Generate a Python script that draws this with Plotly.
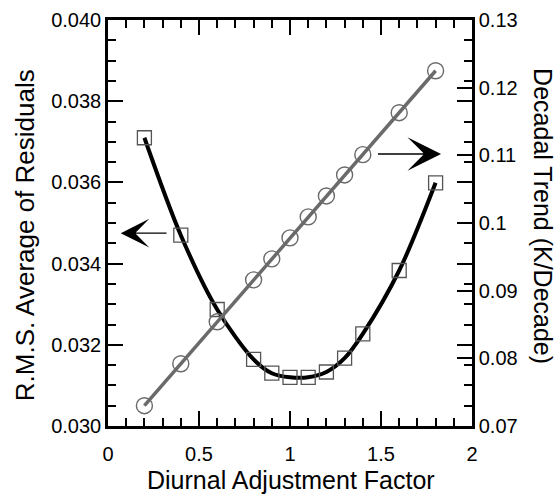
import plotly.graph_objects as go

# Data
factor = [0.2, 0.4, 0.6, 0.8, 0.9, 1.0, 1.1, 1.2, 1.3, 1.4, 1.6, 1.8]
rms_residuals = [0.03710, 0.03470, 0.03287, 0.03164, 0.03130, 0.03120,
                 0.03120, 0.03133, 0.03167, 0.03227, 0.03383, 0.03599]
decadal_trend = [0.0730, 0.0792, 0.0854, 0.0916, 0.0947, 0.0978,
                 0.1009, 0.1040, 0.1071, 0.1101, 0.1163, 0.1225]

FONT = "Liberation Sans, Arial, sans-serif"

fig = go.Figure()

fig.add_trace(go.Scatter(
    x=factor, y=rms_residuals, mode="lines",
    line=dict(color="black", width=4, shape="spline", smoothing=0.9),
    showlegend=False, hoverinfo="skip"))
fig.add_trace(go.Scatter(
    x=factor, y=rms_residuals, mode="markers",
    marker=dict(symbol="square-open", size=14, color="#555555",
                line=dict(width=1.3, color="#555555")),
    showlegend=False))
fig.add_trace(go.Scatter(
    x=factor, y=decadal_trend, mode="lines+markers", yaxis="y2",
    line=dict(color="#6a6a6a", width=3.5),
    marker=dict(symbol="circle-open", size=16, color="#6a6a6a",
                line=dict(width=1.4, color="#6a6a6a")),
    showlegend=False))

axis_common = dict(
    showline=True, linecolor="black", linewidth=2.5,
    ticks="inside", ticklen=15, tickwidth=1.5, tickcolor="black",
    showgrid=False, zeroline=False, automargin=False,
    tickfont=dict(family=FONT, size=20, color="black"),
)

fig.update_layout(
    width=557, height=495,
    margin=dict(l=108, r=85, t=20, b=69),
    paper_bgcolor="white", plot_bgcolor="white",
    font=dict(family=FONT, color="black"),
    xaxis=dict(
        range=[0, 2], dtick=0.5, tick0=0, mirror="ticks", ticklabelstandoff=8,
        minor=dict(dtick=0.1, ticks="inside", ticklen=8, tickwidth=1.5, tickcolor="black"),
        **axis_common),
    yaxis=dict(
        range=[0.030, 0.040], dtick=0.002, tick0=0.030, tickformat=".3f", mirror="ticks",
        minor=dict(dtick=0.0005, ticks="inside", ticklen=8, tickwidth=1.5, tickcolor="black"),
        **axis_common),
    yaxis2=dict(
        range=[0.07, 0.13], dtick=0.01, tick0=0.07, overlaying="y", side="right",
        **axis_common),
)

# Axis titles
fig.add_annotation(
    x=0.504, y=-0.133, xref="paper", yref="paper", xanchor="center", yanchor="middle",
    text="Diurnal Adjustment Factor", showarrow=False,
    font=dict(family=FONT, size=25, color="black"))
fig.add_annotation(
    x=-0.228, y=0.47, xref="paper", yref="paper", xanchor="center", yanchor="middle",
    text="R.M.S. Average of Residuals", textangle=-90, showarrow=False,
    font=dict(family=FONT, size=26, color="black"))
fig.add_annotation(
    x=1.195, y=0.517, xref="paper", yref="paper", xanchor="center", yanchor="middle",
    text="Decadal Trend (K/Decade)", textangle=90, showarrow=False,
    font=dict(family=FONT, size=25, color="black"))

# Arrows pointing to each series' axis
fig.add_annotation(
    x=0.07, y=0.03475, xref="x", yref="y", ax=0.33, ay=0.03475, axref="x", ayref="y",
    text="", showarrow=True, arrowhead=3, arrowsize=3.4, arrowwidth=1.4, arrowcolor="black")
fig.add_annotation(
    x=1.83, y=0.1102, xref="x", yref="y2", ax=1.475, ay=0.1102, axref="x", ayref="y2",
    text="", showarrow=True, arrowhead=3, arrowsize=4.0, arrowwidth=1.4, arrowcolor="black")

fig.write_html("out.html")
